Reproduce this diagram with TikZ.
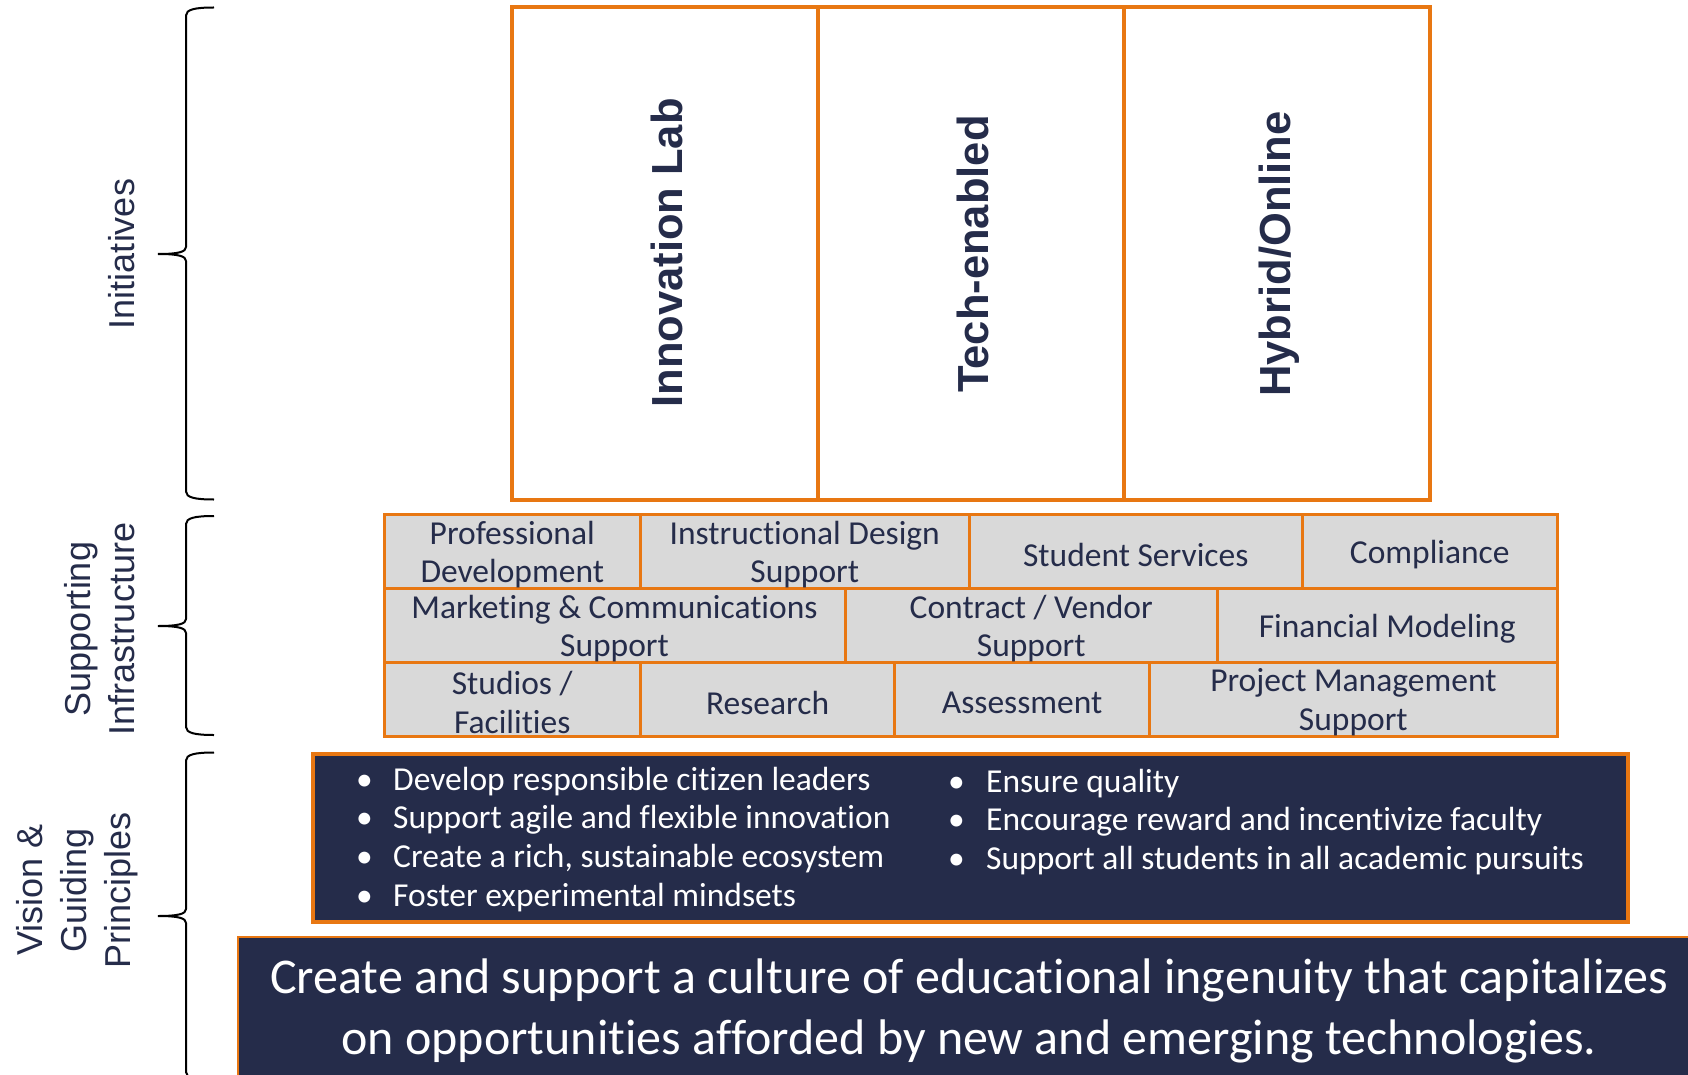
\documentclass[tikz,border=0pt]{standalone}
\usepackage{fontspec}
\setmainfont[Ligatures={NoCommon,NoContextual}]{Carlito}
\newfontfamily\arialf{Liberation Sans}
\usepackage{array}
\definecolor{navy}{RGB}{37,44,74}
\definecolor{orng}{RGB}{232,119,18}
\definecolor{cellgray}{RGB}{217,217,217}
\newcommand{\sidebrace}[3]{%
  \draw[bracestyle] (214,#1) .. controls (195,#1) and (186,#1+2) .. (186,#1+8)
    -- (186,#2-7) .. controls (186,#2-2) and (178,#2) .. (158,#2)
    .. controls (178,#2) and (186,#2+2) .. (186,#2+7)
    -- (186,#3-8) .. controls (186,#3-2) and (195,#3) .. (214,#3);}
\begin{document}
\begin{tikzpicture}[x=1pt,y=-1pt,
  cell/.style={draw=orng, line width=3pt, fill=cellgray},
  celltext/.style={text=navy, align=center, inner sep=0pt, font=\fontsize{33.5}{38.75}\selectfont},
  initcell/.style={draw=orng, line width=4pt, fill=white},
  inittext/.style={text=navy, rotate=90, inner sep=0pt, font=\arialf\bfseries\fontsize{43.5}{50}\selectfont},
  sidelabel/.style={text=navy, rotate=90, align=center, inner sep=0pt, font=\arialf\fontsize{36}{44}\selectfont},
  bracestyle/.style={draw=black, line width=2pt},
  bullettext/.style={text=white, inner sep=0pt, anchor=base west, font=\fontsize{33.5}{38.9}\selectfont},
]
\clip (0,0) rectangle (1688,1075);
\fill[white] (0,0) rectangle (1688,1075);

% Initiatives
\draw[initcell] (512,7.5) rectangle (818,499.5);
\draw[initcell] (818,7.5) rectangle (1124,499.5);
\draw[initcell] (1124,7.5) rectangle (1430,499.5);
\node[inittext] (lab) at (667,253) {Innovation Lab};
\node[inittext] (tech) at (973,254) {Tech-enabled};
\node[inittext] (hyb) at (1279,254) {Hybrid/Online};

% Supporting infrastructure grid
\draw[cell] (384,514.5) rectangle (640.5,588);
\draw[cell] (640.5,514.5) rectangle (969,588);
\draw[cell] (969,514.5) rectangle (1302.5,588);
\draw[cell] (1302.5,514.5) rectangle (1557,588);
\draw[cell] (384,588) rectangle (845,662);
\draw[cell] (845,588) rectangle (1217.5,662);
\draw[cell] (1217.5,588) rectangle (1557,662);
\draw[cell] (384,662) rectangle (640.5,736.5);
\draw[cell] (640.5,662) rectangle (894.6,736.5);
\draw[cell] (894.6,662) rectangle (1149.7,736.5);
\draw[cell] (1149.7,662) rectangle (1557,736.5);

\node[celltext] (pd) at (512.25,554.5) {Professional\\Development};
\node[celltext] (ids) at (804.75,554.5) {Instructional Design\\Support};
\node[celltext] (ss) at (1135.75,554.5) {Student Services};
\node[celltext] (comp) at (1429.75,554.5) {Compliance};
\node[celltext] (mkt) at (614.5,628.5) {Marketing \& Communications\\Support};
\node[celltext] (cv) at (1031.25,628.5) {Contract / Vendor\\Support};
\node[celltext] (fin) at (1387.25,628.5) {Financial Modeling};
\node[celltext] (stu) at (512.25,702.5) {Studios /\\Facilities};
\node[celltext] (res) at (767.55,702.5) {Research};
\node[celltext] (ass) at (1022.15,702.5) {Assessment};
\node[celltext] (pm) at (1353.35,702.5) {Project Management\\Support};

% Vision / guiding principles box
\draw[fill=navy, draw=orng, line width=4pt] (313,753.5) rectangle (1628,921.5);
\node[bullettext] (colA) at (356,790) {\begin{tabular}[t]{@{}p{37pt}@{}l@{}}
\textbullet & Develop responsible citizen leaders\\
\textbullet & Support agile and flexible innovation\\
\textbullet & Create a rich, sustainable ecosystem\\
\textbullet & Foster experimental mindsets
\end{tabular}};
\node[bullettext] (colB) at (948,792) {\begin{tabular}[t]{@{}p{38pt}@{}l@{}}
\textbullet & Ensure quality\\
\textbullet & Encourage reward and incentivize faculty\\
\textbullet & Support all students in all academic pursuits
\end{tabular}};

% Vision statement
\draw[fill=navy, draw=orng, line width=2pt] (238,936.5) rectangle (1700,1090);
\node[text=white, align=center, inner sep=0pt, font=\fontsize{50}{61.4}\selectfont] (vis) at (969,1011)
  {Create and support a culture of educational ingenuity that capitalizes\\on opportunities afforded by new and emerging technologies.};

% Side labels and braces
\node[sidelabel] (li) at (122,254) {Initiatives};
\node[sidelabel] (ls) at (100,629) {Supporting\\Infrastructure};
\node[sidelabel] (lv) at (77,890) {Vision \&\\Guiding\\Principles};
\sidebrace{7.5}{254}{499.5}
\sidebrace{516}{626}{735}
\sidebrace{752.5}{916}{1080}
\end{tikzpicture}
\end{document}
